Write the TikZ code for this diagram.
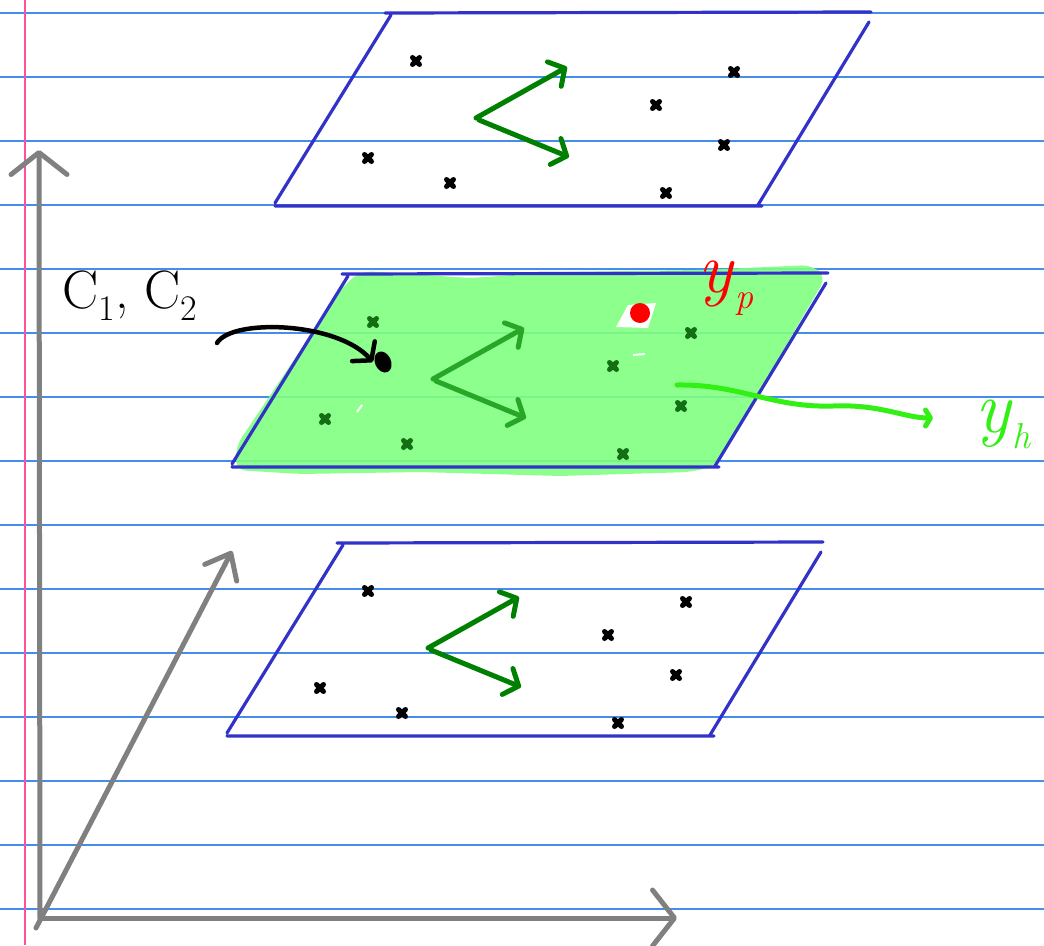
\documentclass[tikz,border=0pt]{standalone}
\usetikzlibrary{arrows.meta}
\definecolor{ruleblue}{RGB}{70,140,235}
\definecolor{marginpink}{RGB}{255,80,160}
\definecolor{planeblue}{RGB}{50,50,200}
\definecolor{axisgrey}{RGB}{128,128,128}
\definecolor{vecgreen}{RGB}{0,128,0}
\definecolor{highlight}{RGB}{128,255,128}
\definecolor{markgreen}{RGB}{20,110,20}
\definecolor{hgreen}{RGB}{50,240,20}
\newcommand\lowsub[1]{\raisebox{-0.22em}{\fontsize{36}{40}\selectfont #1}}
\begin{document}
\begin{tikzpicture}[x=1pt, y=-1pt,
  ruled/.style={ruleblue, line width=1.4pt},
  axis/.style={axisgrey, line width=5pt, line cap=round, -{Straight Barb[round, length=22pt, width=56pt]}},
  plane/.style={planeblue, line width=3.2pt, line cap=round},
  vec/.style={line width=5pt, line cap=round, -{Straight Barb[round, length=12pt, width=28pt]}},
  jot/.style={line width=5pt, line cap=round},
  pointer/.style={black, line width=4.5pt, line cap=round, -{Straight Barb[round, length=12pt, width=30pt]}},
  hand/.style={inner sep=0pt}]

  \useasboundingbox (0,0) rectangle (1044,945);
  \foreach \k in {0,...,14}
    \draw[ruled] (0,{13+64*\k}) -- (1044,{13+64*\k});
  \draw[marginpink, line width=1.8pt] (25,0) -- (25,945);

  \fill[highlight, fill opacity=0.9, rounded corners=10pt] (236,470) -- (236,446) -- (345,284) -- (362,271) -- (470,278) -- (560,272) -- (700,270) -- (812,265) -- (826,277) -- (716,466) -- (690,472) -- (560,476) -- (420,472) -- (300,474) -- cycle;
  \fill[white] (616,327) -- (628,305) -- (656,303) -- (648,328) -- cycle;
  \draw[white, line width=2pt] (633,355) -- (645,354) (357,412) -- (362,405);

  \foreach \ox/\oy/\mc/\vc [count=\i] in {385/13/black/vecgreen, 342/274/markgreen/vecgreen!70!highlight, 337/543/black/vecgreen} {
    \begin{scope}[shift={(\ox,\oy)}]
      \draw[plane] (0,0) -- (486,-1) (484,9) -- (373,192) (-110,193) -- (377,193) (-110,190) -- (6,2);
      \coordinate (v\i) at (91,105);
      \coordinate (a\i) at (182,54);
      \coordinate (b\i) at (184,144);
      \draw[vec, \vc] (v\i) -- (a\i);
      \draw[vec, \vc] ([shift={(3,2)}]v\i) -- (b\i);
      \foreach \mx/\my in {31/48, 349/59, 271/92, 339/132, -17/145, 65/170, 281/180}
        \draw[jot, \mc] (\mx,\my) +(-3.5,-3.5) -- +(3.5,3.5) +(-3.5,3.5) -- +(3.5,-3.5);
    \end{scope}
  }

  \coordinate (origin) at (40,918);
  \coordinate (up) at (39,150);
  \coordinate (right) at (677,918);
  \coordinate (depth) at (232,551);
  \draw[axis] (origin) -- (up);
  \draw[axis] (origin) -- (right);
  \draw[axis, -{Straight Barb[round, length=22pt, width=36pt]}] ([shift={(-4,10)}]origin) -- (depth);

  \node[hand, font=\fontsize{54}{58}\selectfont] (c12) at (130,296) {C\lowsub{1}, C\lowsub{2}};
  \fill[black, rotate around={25:(383,362)}] (383,362) ellipse (8 and 11);
  \node[inner sep=0pt, minimum size=20pt] (dot) at (383,362) {};
  \coordinate (tail) at (217,343);
  \draw[pointer] (tail) .. controls (232,318) and (338,322) .. (dot.west);

  \fill[red] (640,313) circle (10);
  \node[hand, red, font=\fontsize{72}{76}\selectfont] (yp) at (726,288) {\textit{y}\lowsub{\textit{p}}};

  \coordinate (start) at (677,385);
  \coordinate (stop) at (933,418);
  \draw[hgreen, line width=5pt, line cap=round, -{Straight Barb[round, length=5pt, width=16pt]}] (start) .. controls (740,384) and (772,408) .. (833,406) .. controls (880,404) and (905,418) .. (stop);
  \node[hand, hgreen, font=\fontsize{74}{78}\selectfont, anchor=west] (yh) at (975,424) {\textit{y}\lowsub{\textit{h}}};
\end{tikzpicture}
\end{document}
